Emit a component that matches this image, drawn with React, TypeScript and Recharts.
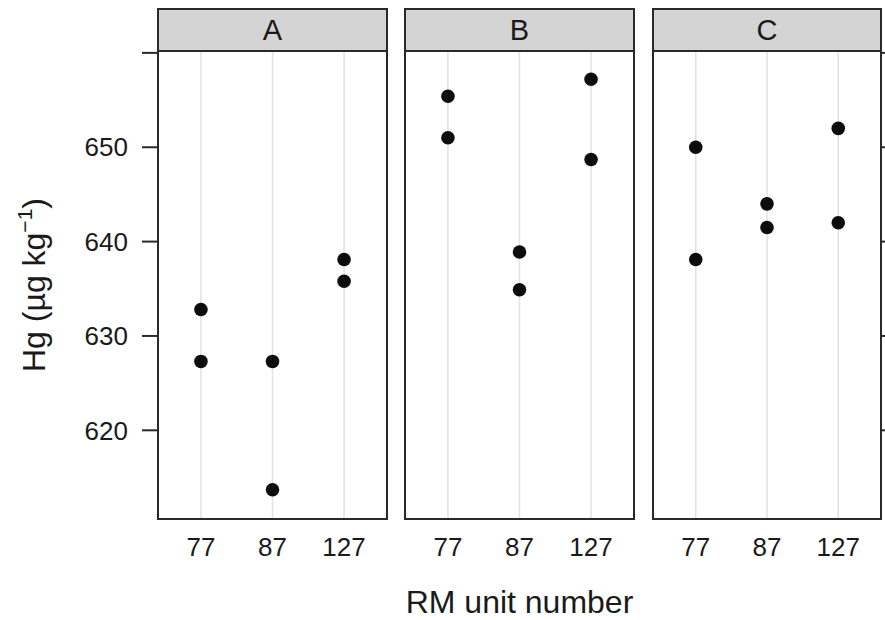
import React from 'react';
import {
  ScatterChart,
  Scatter,
  XAxis,
  YAxis,
  CartesianGrid,
  ReferenceArea,
} from 'recharts';

// RM unit numbers (x categories) and panel names
const units = ['77', '87', '127'];
const panelNames = ['A', 'B', 'C'];

// Hg (µg/kg), two replicate readings per unit
const hgFirstA = [632.8, 627.3, 638.1];
const hgSecondA = [627.3, 613.7, 635.8];
const hgFirstB = [655.4, 638.9, 657.2];
const hgSecondB = [651.0, 634.9, 648.7];
const hgFirstC = [650.0, 644.0, 652.0];
const hgSecondC = [638.1, 641.5, 642.0];

const yTicks = [620, 630, 640, 650, 660];
const yTickLabels = ['620', '630', '640', '650', ''];

const Y_DOMAIN: [number, number] = [610.6, 660.2];
const X_DOMAIN: [number, number] = [0.4, 3.6];
const FONT = '"Liberation Sans", Arial, Helvetica, sans-serif';
const INK = '#1a1a1a';
const LINE = '#2a2a2a';

const toPoints = (vals: number[]) => vals.map((v, i) => ({ x: i + 1, y: v }));

const Dot = (props: any) => (
  <circle cx={props.cx} cy={props.cy} r={6.8} fill="#0d0d0d" />
);

const YTitle = () => (
  <text
    x={45}
    y={285}
    transform="rotate(-90, 45, 285)"
    textAnchor="middle"
    fill={INK}
    fontFamily={FONT}
    fontSize={32}
  >
    Hg (µg kg
    <tspan fontSize={21} dy={-13}>
      −1
    </tspan>
    <tspan dy={13}>)</tspan>
  </text>
);

type PanelProps = {
  name: string;
  first: number[];
  second: number[];
  plotLeft: number;
  plotWidth: number;
  axis: 'left' | 'none' | 'right';
};

const Panel: React.FC<PanelProps> = ({ name, first, second, plotLeft, plotWidth, axis }) => {
  const pad = 4;
  const yAxisW = axis === 'left' ? 100 : axis === 'right' ? 4 : 0;
  const marginLeft = axis === 'left' ? plotLeft - yAxisW : pad;
  const chartLeft = axis === 'left' ? 0 : plotLeft - pad;
  const marginRight = axis === 'right' ? 0 : pad;
  const width =
    axis === 'left'
      ? plotLeft + plotWidth + pad
      : pad + plotWidth + marginRight + yAxisW;

  return (
    <>
      <div style={{ position: 'absolute', left: chartLeft, top: 0 }}>
        <ScatterChart
          width={width}
          height={620}
          margin={{ top: 51, right: marginRight, bottom: 61, left: marginLeft }}
        >
          <CartesianGrid horizontal={false} stroke="#e2e2e2" strokeWidth={1.5} />
          <XAxis
            type="number"
            dataKey="x"
            domain={X_DOMAIN}
            ticks={[1, 2, 3]}
            interval={0}
            allowDataOverflow
            tickFormatter={(v: number) => units[v - 1]}
            axisLine={false}
            tickLine={false}
            tickSize={0}
            tickMargin={19}
            height={40}
            tick={{ fontSize: 26, fill: INK, fontFamily: FONT }}
          />
          {axis === 'left' && (
            <YAxis
              type="number"
              dataKey="y"
              domain={Y_DOMAIN}
              ticks={yTicks}
              interval={0}
              allowDataOverflow
              width={yAxisW}
              tickFormatter={(v: number) => yTickLabels[yTicks.indexOf(v)]}
              axisLine={false}
              tickLine={{ stroke: LINE, strokeWidth: 2 }}
              tickSize={16}
              tickMargin={14}
              tick={{ fontSize: 26, fill: INK, fontFamily: FONT }}
              label={() => <YTitle />}
            />
          )}
          {axis === 'right' && (
            <YAxis
              type="number"
              dataKey="y"
              orientation="right"
              domain={Y_DOMAIN}
              ticks={yTicks}
              interval={0}
              allowDataOverflow
              width={yAxisW}
              tickFormatter={() => ''}
              axisLine={false}
              tickLine={{ stroke: LINE, strokeWidth: 2 }}
              tickSize={8}
            />
          )}
          {axis === 'none' && (
            <YAxis type="number" dataKey="y" domain={Y_DOMAIN} allowDataOverflow hide />
          )}
          <ReferenceArea
            x1={X_DOMAIN[0]}
            x2={X_DOMAIN[1]}
            y1={Y_DOMAIN[0]}
            y2={Y_DOMAIN[1]}
            fill="none"
            stroke={LINE}
            strokeWidth={2}
            ifOverflow="visible"
          />
          <Scatter data={toPoints(first)} shape={Dot} isAnimationActive={false} />
          <Scatter data={toPoints(second)} shape={Dot} isAnimationActive={false} />
        </ScatterChart>
      </div>
      <div
        style={{
          position: 'absolute',
          left: plotLeft - 1,
          top: 8,
          width: plotWidth + 2,
          height: 44,
          boxSizing: 'border-box',
          background: '#d4d4d4',
          border: `2px solid ${LINE}`,
          textAlign: 'center',
          fontFamily: FONT,
          fontSize: 29,
          lineHeight: '40px',
          color: INK,
        }}
      >
        {name}
      </div>
    </>
  );
};

export default function App() {
  return (
    <div
      style={{
        position: 'absolute',
        left: 0,
        top: 0,
        width: 885,
        height: 620,
        background: '#fff',
        overflow: 'hidden',
      }}
    >
      <Panel name={panelNames[0]} first={hgFirstA} second={hgSecondA} plotLeft={158} plotWidth={229} axis="left" />
      <Panel name={panelNames[1]} first={hgFirstB} second={hgSecondB} plotLeft={405} plotWidth={229} axis="none" />
      <Panel name={panelNames[2]} first={hgFirstC} second={hgSecondC} plotLeft={653} plotWidth={228} axis="right" />
      <div
        style={{
          position: 'absolute',
          left: 158,
          width: 723,
          top: 586,
          textAlign: 'center',
          fontFamily: FONT,
          fontSize: 32,
          lineHeight: '32px',
          color: INK,
        }}
      >
        RM unit number
      </div>
    </div>
  );
}
